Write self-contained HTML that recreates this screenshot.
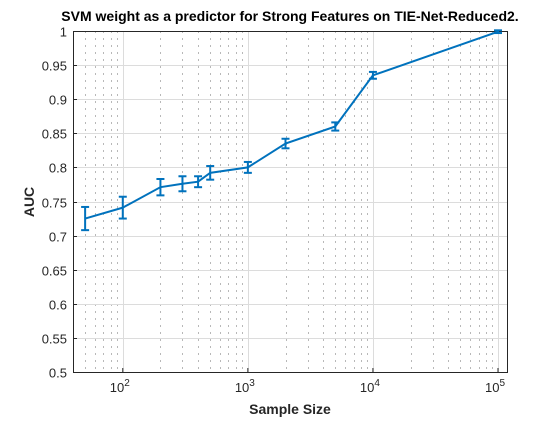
<!DOCTYPE html>
<html><head><meta charset="utf-8"><style>
html,body{margin:0;padding:0;background:#fff;}
svg text{font-family:"Liberation Sans",Arial,sans-serif;}
</style></head><body>
<svg id="chart" width="560" height="420" xmlns="http://www.w3.org/2000/svg">
<rect x="0" y="0" width="560" height="420" fill="#fff"/>
<g id="grid"></g>
<g id="axes"></g>
<g id="series"></g>
<text x="290" y="21" text-anchor="middle" font-size="14" font-weight="bold" fill="#000">SVM weight as a predictor for Strong Features on TIE-Net-Reduced2.</text>
<text x="290" y="414" text-anchor="middle" font-size="14" font-weight="bold" fill="#262626">Sample Size</text>
<text transform="translate(34,202) rotate(-90)" text-anchor="middle" font-size="14" font-weight="bold" fill="#262626">AUC</text>
</svg>
<script>
const sampleSizes=[50,100,200,300,400,500,1000,2000,5000,10000,100000];
const aucValues=[0.725,0.741,0.771,0.776,0.779,0.792,0.800,0.835,0.860,0.935,0.999];
const aucErrors=[0.017,0.016,0.012,0.011,0.008,0.010,0.008,0.007,0.006,0.005,0.002];
const yTicks=[0.5,0.55,0.6,0.65,0.7,0.75,0.8,0.85,0.9,0.95,1];
const xDecades=[2,3,4,5];

const L=73,R=507,T=31,B=372;
const xMin=40,xMax=118000,yMin=0.5,yMax=1;
function xs(v){return L+(Math.log10(v)-Math.log10(xMin))/(Math.log10(xMax)-Math.log10(xMin))*(R-L);}
function ys(v){return B-(v-yMin)/(yMax-yMin)*(B-T);}
const NS="http://www.w3.org/2000/svg";
function mk(tag,attrs,parent){const e=document.createElementNS(NS,tag);for(const k in attrs)e.setAttribute(k,attrs[k]);parent.appendChild(e);return e;}
const grid=document.getElementById('grid'),axes=document.getElementById('axes'),series=document.getElementById('series');

for(let d=1;d<=5;d++){for(let m=1;m<=9;m++){const v=m*Math.pow(10,d);if(v<xMin||v>xMax)continue;
 const x=Math.round(xs(v))+0.5;
 if(m===1){const l=mk('line',{x1:x,x2:x,y1:T,y2:B,stroke:'#dcdcdc','stroke-width':1},grid);
  }
 else{const l=mk('line',{x1:x,x2:x,y1:T,y2:B,stroke:'#b8b8b8','stroke-width':1,'stroke-dasharray':'2,5'},grid);
  }
}}
yTicks.forEach(t=>{const y=Math.round(ys(t))+0.5;
 const l=mk('line',{x1:L,x2:R,y1:y,y2:y,stroke:'#dcdcdc','stroke-width':1},grid);
 
 const tk=mk('line',{x1:L,x2:L+4,y1:y,y2:y,stroke:'#262626'},axes);
 
 const tx=mk('text',{x:L-6,y:y+5,'text-anchor':'end','font-size':13,fill:'#262626'},axes);
 tx.textContent=String(t);
 
});
xDecades.forEach(d=>{const x=xs(Math.pow(10,d));
 const tk=mk('line',{x1:x,x2:x,y1:B,y2:B-4,stroke:'#262626'},axes);
 
 const tx=mk('text',{x:x-3,y:B+20,'text-anchor':'middle','font-size':13,fill:'#262626'},axes);
 tx.textContent='10';
 const sp=mk('tspan',{dy:-6,'font-size':10},tx);sp.textContent=String(d);
 
});
const box=mk('rect',{x:L+0.5,y:T+0.5,width:R-L,height:B-T,fill:'none',stroke:'#262626','stroke-width':1},axes);


const pts=sampleSizes.map((s,i)=>xs(s)+','+ys(aucValues[i])).join(' ');
const pl=mk('polyline',{points:pts,fill:'none',stroke:'#0072BD','stroke-width':2},series);

sampleSizes.forEach((s,i)=>{const x=xs(s),y1=ys(aucValues[i]-aucErrors[i]),y2=ys(aucValues[i]+aucErrors[i]);
 const g=mk('g',{stroke:'#0072BD','stroke-width':2},series);
 
 mk('line',{x1:x,x2:x,y1:y1,y2:y2},g);
 mk('line',{x1:x-4,x2:x+4,y1:y1,y2:y1},g);
 mk('line',{x1:x-4,x2:x+4,y1:y2,y2:y2},g);
});
</script>
</body></html>
